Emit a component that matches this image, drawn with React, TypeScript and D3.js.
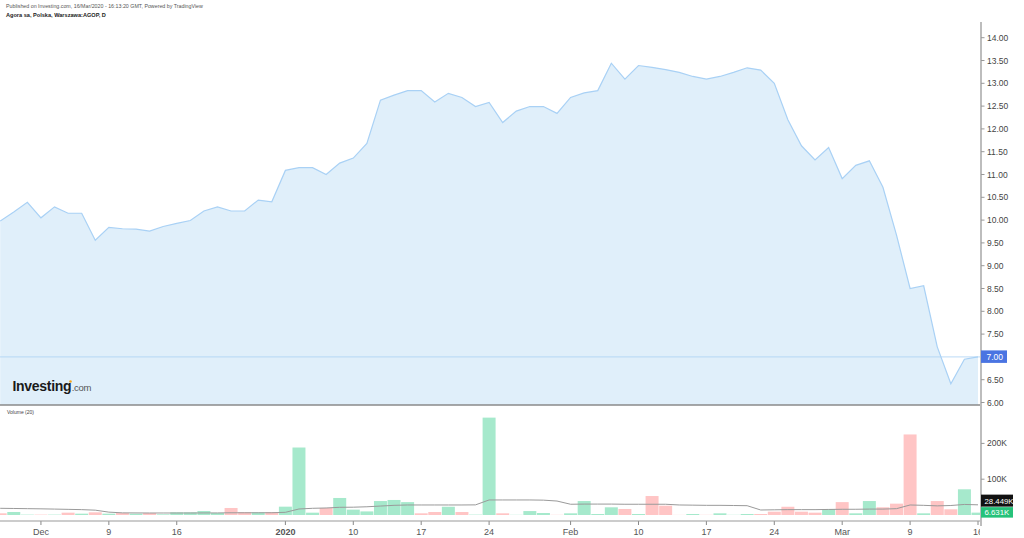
import React from "react";
import * as d3 from "d3";

const dates = [
  "2019-11-27","2019-11-28","2019-11-29","2019-12-02","2019-12-03","2019-12-04","2019-12-05","2019-12-06",
  "2019-12-09","2019-12-10","2019-12-11","2019-12-12","2019-12-13","2019-12-16","2019-12-17","2019-12-18",
  "2019-12-19","2019-12-20","2019-12-23","2019-12-27","2019-12-30","2020-01-02","2020-01-03","2020-01-07",
  "2020-01-08","2020-01-09","2020-01-10","2020-01-13","2020-01-14","2020-01-15","2020-01-16","2020-01-17",
  "2020-01-20","2020-01-21","2020-01-22","2020-01-23","2020-01-24","2020-01-27","2020-01-28","2020-01-29",
  "2020-01-30","2020-01-31","2020-02-03","2020-02-04","2020-02-05","2020-02-06","2020-02-07","2020-02-10",
  "2020-02-11","2020-02-12","2020-02-13","2020-02-14","2020-02-17","2020-02-18","2020-02-19","2020-02-20",
  "2020-02-21","2020-02-24","2020-02-25","2020-02-26","2020-02-27","2020-02-28","2020-03-02","2020-03-03",
  "2020-03-04","2020-03-05","2020-03-06","2020-03-09","2020-03-10","2020-03-11","2020-03-12","2020-03-13",
  "2020-03-16"
];

const closes = [
  9.98,10.18,10.39,10.05,10.29,10.15,10.15,9.56,9.84,9.81,9.80,9.76,9.86,9.93,9.99,10.20,
  10.29,10.20,10.20,10.44,10.40,11.09,11.15,11.15,11.00,11.25,11.36,11.68,12.63,12.74,12.84,12.84,
  12.59,12.78,12.69,12.49,12.58,12.14,12.39,12.49,12.49,12.34,12.69,12.79,12.84,13.44,13.09,13.39,
  13.35,13.30,13.24,13.15,13.09,13.15,13.24,13.34,13.29,13.00,12.20,11.63,11.32,11.59,10.91,11.20,
  11.30,10.72,9.67,8.50,8.56,7.22,6.41,6.95,7.00
];

// volume in thousands
const volumes = [
  4.7,8.4,1.0,1.0,1.0,6.5,3.7,7.5,3.7,5.6,3.7,5.6,1.9,7.5,7.5,11.2,
  5.6,19.6,8.4,7.5,8.4,23.3,188.5,6.5,19.6,47.6,15,10,39,42,36,4.7,
  8.4,23,8.4,1,272,4.7,0.5,11,5.6,0.5,4.7,39,2.8,21.5,16.8,2.8,
  53,26,0.3,2.8,0.5,4.7,0.5,2.8,2.8,9.3,23,9.3,6.5,16.8,36,4.7,
  39,21.5,31.7,225,4.7,39,15.9,71.8,6.631
];

// 1 = up (green), 0 = down (red)
const volumeUp = [
  0,1,1,0,1,0,1,0,1,0,1,0,1,1,1,1,
  1,0,0,1,0,1,1,1,0,1,1,1,1,1,1,0,
  0,1,0,1,1,0,1,1,1,0,1,1,1,1,0,1,
  0,0,0,1,0,1,1,1,0,0,0,0,0,1,0,1,
  1,0,0,0,1,0,0,1,1
];

// Volume MA(20), thousands
const volumeMA = [
  18.7,18.2,17.7,17.2,16.5,15.8,15.0,13.5,8.0,6.0,5.8,5.6,5.6,5.6,5.6,5.8,
  5.8,6.2,6.2,6.2,6.3,7.5,16.8,18.7,19.6,21.5,21.8,23,25,27,28,28,
  28,28,28,28.3,42,42,42,42,41.5,39,30,30.5,30.5,30.5,30,30,
  30,30,28,27.5,27,27,26.5,26,14,14.5,15,15,15,15.5,16,16,
  16.5,16.5,17.7,28,27,25.5,26.5,29.5,28.449
];

const priceTicks = [6, 6.5, 7, 7.5, 8, 8.5, 9, 9.5, 10, 10.5, 11, 11.5, 12, 12.5, 13, 13.5, 14];
const volumeTicks = [100, 200];
const xTickDates = ["2019-12-02","2019-12-09","2019-12-16","2020-01-02","2020-01-10","2020-01-17","2020-01-24",
  "2020-02-03","2020-02-10","2020-02-17","2020-02-24","2020-03-02","2020-03-09","2020-03-16"];
const xTickLabels = ["Dec","9","16","2020","10","17","24","Feb","10","17","24","Mar","9","16"];
const xTickBold = [false,false,false,true,false,false,false,false,false,false,false,false,false,false];

const FONT = "'Liberation Sans', Arial, sans-serif";

export default function App() {
  const W = 1024, H = 538;
  const plotRight = 981;
  const priceBottom = 405;
  const x = d3.scalePoint<string>().domain(dates).range([0.2, 978]);
  const step = x.step();
  const yP = d3.scaleLinear().domain([6, 14]).range([402.5, 37.7]);
  const yV = d3.scaleLinear().domain([0, 200]).range([515, 443.4]);

  const pts = dates.map((d, i) => [x(d) as number, closes[i]] as [number, number]);
  const area = d3.area<[number, number]>().x(d => d[0]).y0(priceBottom).y1(d => yP(d[1]))(pts) || "";
  const line = d3.line<[number, number]>().x(d => d[0]).y(d => yP(d[1]))(pts) || "";
  const maLine = d3.line<number>().x((_, i) => x(dates[i]) as number).y(v => yV(v))(volumeMA) || "";

  const lastClose = closes[closes.length - 1];
  const lastVol = volumes[volumes.length - 1];
  const lastMA = volumeMA[volumeMA.length - 1];
  const greenC = yV(lastVol) - 0.5;
  const blackC = Math.min(yV(lastMA), greenC - 11.5);

  return (
    <svg width={W} height={H} style={{ position: "fixed", left: 0, top: 0, background: "#fff" }} fontFamily={FONT}>
      <defs>
        <clipPath id="plotClip"><rect x={0} y={0} width={plotRight - 1} height={H} /></clipPath>
      </defs>
      {/* header */}
      <text x={6} y={7.5} fontSize={5.3} fill="#555">Published on Investing.com, 16/Mar/2020 - 16:13:20 GMT, Powered by TradingView</text>
      <text x={6} y={17} fontSize={5.6} fontWeight="bold" fill="#222">Agora sa, Polska, Warszawa:AGOP, D</text>

      <g clipPath="url(#plotClip)">
        <path d={area} fill="#e0effa" />
        <line x1={0} x2={plotRight} y1={yP(lastClose)} y2={yP(lastClose)} stroke="#a9d1f5" strokeWidth={0.8} />
        <path d={line} fill="none" stroke="#a9d1f5" strokeWidth={1.2} />

        {/* volume bars */}
        {dates.map((d, i) => (
          <rect key={d} x={(x(d) as number) - step / 2 + 0.3} width={step - 0.6}
            y={yV(volumes[i])} height={yV(0) - yV(volumes[i])}
            fill={volumeUp[i] ? "#a6e9cc" : "#ffc5c5"} />
        ))}
        <path d={maLine} fill="none" stroke="#9a9a9a" strokeWidth={1} />

        {/* x tick labels */}
        {xTickDates.map((d, i) => (
          <g key={d + i}>
            <line x1={x(d) as number} x2={x(d) as number} y1={521} y2={525} stroke="#888" strokeWidth={1} />
            <text x={x(d) as number} y={534.5} fontSize={9} textAnchor="middle" fill="#555"
              fontWeight={xTickBold[i] ? "bold" : "normal"}>{xTickLabels[i]}</text>
          </g>
        ))}
      </g>

      {/* separators */}
      <line x1={0} x2={plotRight} y1={priceBottom} y2={priceBottom} stroke="#8a8a8a" strokeWidth={1.5} />
      <line x1={0} x2={plotRight} y1={521} y2={521} stroke="#9a9a9a" strokeWidth={1.2} />
      <line x1={plotRight} x2={plotRight} y1={22} y2={526} stroke="#bdbdbd" strokeWidth={2} />

      {/* logo */}
      <text x={12.5} y={390.5} fontSize={14} fontWeight="bold" fill="#1a1a1a" letterSpacing={-0.3}>Investing<tspan fontSize={9.5} fontWeight="normal" fill="#555" dx={0.5}>.com</tspan></text>
      <circle cx={70.5} cy={381.5} r={1.3} fill="#f4a51c" />

      <text x={7} y={414} fontSize={5} fill="#444">Volume (20)</text>

      {/* price axis */}
      {priceTicks.map(t => (
        <g key={t}>
          <line x1={plotRight} x2={plotRight + 3.5} y1={yP(t)} y2={yP(t)} stroke="#999" />
          <text x={987} y={yP(t) + 3} fontSize={8.5} fill="#444">{t.toFixed(2)}</text>
        </g>
      ))}
      <rect x={plotRight} y={yP(lastClose) - 6.5} width={26} height={12.5} fill="#4a74e2" />
      <text x={986.5} y={yP(lastClose) + 3} fontSize={8.5} fill="#fff">{lastClose.toFixed(2)}</text>

      {/* volume axis */}
      {volumeTicks.map(t => (
        <g key={t}>
          <line x1={plotRight} x2={plotRight + 3.5} y1={yV(t)} y2={yV(t)} stroke="#999" />
          <text x={987} y={yV(t) + 3} fontSize={8.5} fill="#444">{t}K</text>
        </g>
      ))}
      <rect x={plotRight} y={blackC - 6} width={32} height={12} fill="#111" />
      <text x={984.5} y={blackC + 3} fontSize={7.8} fill="#fff">{lastMA.toFixed(3)}K</text>
      <rect x={plotRight} y={greenC - 5} width={32} height={10.5} fill="#26c27a" />
      <text x={984.5} y={greenC + 3} fontSize={7.8} fill="#fff">{lastVol.toFixed(3)}K</text>
    </svg>
  );
}
